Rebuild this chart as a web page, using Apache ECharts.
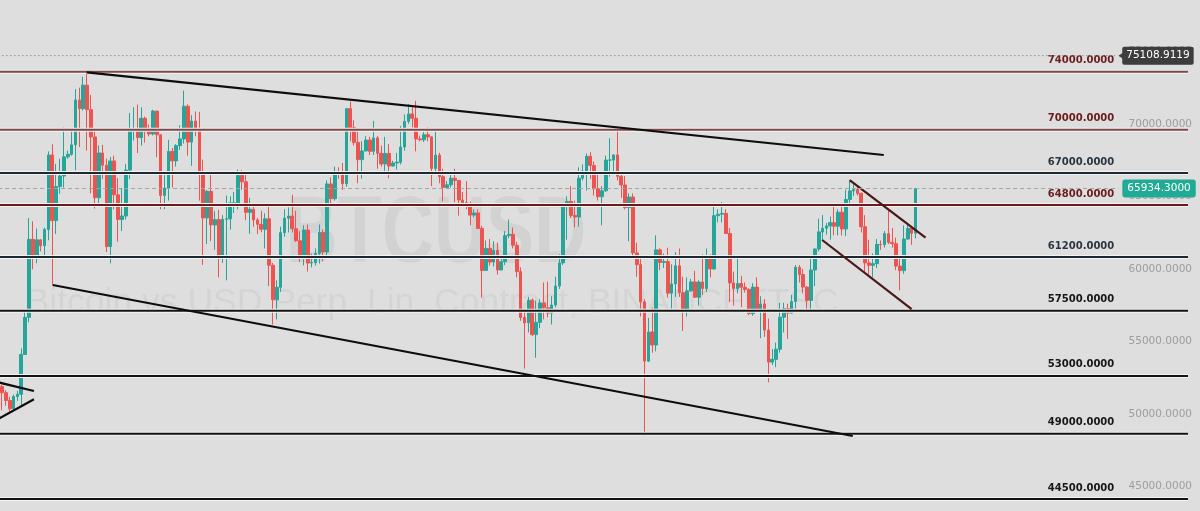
<!DOCTYPE html>
<html>
<head>
<meta charset="utf-8">
<title>BTCUSD</title>
<script src="https://cdn.jsdelivr.net/npm/echarts@6/dist/echarts.min.js"></script>
<style>
html, body { margin: 0; padding: 0; background: #dedede; }
#main { width: 1200px; height: 511px; }
</style>
</head>
<body>
<div id="main"></div>
<script>
// daily candles, 2024-02-21 .. 2024-10-14  [open, close, low, high]
const ohlc = [
  [52260, 51840, 50620, 52370], [51840, 51300, 50950, 52000], [51300, 50730, 50520, 51550], [50730, 51570, 50560, 51700],
  [51570, 51730, 51280, 51960], [51730, 54480, 50900, 54900], [54480, 57040, 54450, 57550], [57040, 62430, 56700, 63900],
  [62430, 61130, 60360, 63670],
  // Mar
  [61130, 62390, 60780, 63170], [62390, 61990, 61600, 62430], [61990, 63110, 61300, 63230], [63110, 68250, 62360, 68500],
  [68250, 63720, 59300, 69000], [63720, 66070, 62800, 67640], [66070, 66800, 65570, 67990], [66800, 68120, 66000, 70140],
  [68120, 68300, 67990, 68560], [68300, 68950, 68200, 69930], [68950, 72050, 67200, 72800], [72050, 71450, 68800, 72900],
  [71450, 73070, 71320, 73650], [73070, 71380, 68550, 73900], [71380, 69500, 65600, 72400], [69500, 65300, 64550, 70050],
  [65300, 68390, 64870, 68900], [68390, 67550, 66600, 68950], [67550, 61930, 61550, 68000], [61930, 67840, 60770, 68100],
  [67840, 65500, 64500, 68200], [65500, 63800, 62260, 66650], [63800, 64040, 63000, 65970], [64040, 67210, 63800, 67620],
  [67210, 69880, 66600, 71150], [69880, 69990, 69250, 71550], [69990, 69450, 68380, 71730], [69450, 70780, 68900, 71550],
  [70780, 69890, 69100, 70900], [69890, 69700, 69540, 70350], [69700, 71280, 69600, 71370],
  // Apr
  [71280, 69650, 68100, 71300], [69650, 65460, 64500, 69670], [65460, 65960, 64500, 66900], [65960, 68500, 65100, 69300],
  [68500, 67840, 66000, 68730], [67840, 68900, 67450, 69000], [68900, 69360, 68600, 70300], [69360, 71620, 69040, 72700],
  [71620, 69140, 68200, 71750], [69140, 70590, 67500, 71000], [70590, 70060, 69550, 71260], [70060, 67110, 65100, 71230],
  [67110, 63900, 60660, 67930], [63900, 65740, 62100, 65830], [65740, 63420, 62300, 66870], [63420, 63790, 61700, 64360],
  [63790, 61270, 59800, 64470], [61270, 63810, 60800, 64100], [63810, 63840, 59600, 65450], [63840, 64940, 63100, 65400],
  [64940, 64940, 64250, 65700], [64940, 66840, 64500, 67250], [66840, 66400, 65850, 67200], [66400, 64290, 63750, 67080],
  [64290, 64500, 62800, 65290], [64500, 63770, 63300, 64800], [63770, 63460, 62790, 63900], [63460, 63120, 62920, 64400],
  [63120, 63840, 61800, 64230], [63840, 60640, 59200, 64750],
  // May
  [60640, 58250, 56550, 60800], [58250, 59120, 56900, 59600], [59120, 62890, 58800, 63300], [62890, 63890, 62600, 64500],
  [63890, 64030, 62900, 64630], [64030, 63160, 62900, 65500], [63160, 62330, 62250, 64400], [62330, 61190, 60860, 62990],
  [61190, 63070, 60630, 63400], [63070, 60790, 60200, 63450], [60790, 60820, 60490, 61450], [60820, 61450, 60620, 61800],
  [61450, 62900, 60750, 63450], [62900, 61550, 60900, 63100], [61550, 66250, 61300, 66500], [66250, 65230, 64650, 66700],
  [65230, 67050, 65100, 67450], [67050, 66940, 66600, 67400], [66940, 66270, 65850, 67700], [66270, 71450, 66050, 71500],
  [71450, 70140, 69200, 71950], [70140, 69120, 68900, 70650], [69120, 67930, 66300, 70050], [67930, 68530, 66620, 69200],
  [68530, 69280, 68500, 69550], [69280, 68500, 68250, 69500], [68500, 69430, 68250, 70600], [69430, 68370, 67300, 69550],
  [68370, 67630, 67450, 68900], [67630, 68360, 67150, 69500], [68360, 67490, 66650, 69000],
  // Jun
  [67490, 67700, 67450, 67850], [67700, 67750, 67250, 68400], [67750, 68800, 67600, 70250], [68800, 70570, 68550, 71050],
  [70570, 71080, 70400, 71750], [71080, 70780, 70150, 71600], [70780, 69360, 68500, 71990], [69360, 69300, 69200, 69580],
  [69300, 69650, 69150, 69850], [69650, 69500, 69200, 70150], [69500, 67320, 66100, 69550], [67320, 68240, 66900, 69950],
  [68240, 66750, 66300, 68400], [66750, 66010, 65050, 67300], [66010, 66190, 65900, 66450], [66190, 66640, 66000, 66950],
  [66640, 66490, 64980, 67300], [66490, 65140, 64060, 66500], [65140, 64960, 64700, 65700], [64960, 64830, 64500, 66450],
  [64830, 64100, 63400, 65050], [64100, 64250, 63950, 64500], [64250, 63180, 63150, 64500], [63180, 60280, 58400, 63350],
  [60280, 61800, 60250, 62350], [61800, 60860, 60600, 62450], [60860, 61670, 60550, 62300], [61670, 60310, 60000, 62200],
  [60310, 60880, 60300, 61200], [60880, 62680, 60650, 63000],
  // Jul
  [62680, 62770, 62500, 63800], [62770, 62020, 61800, 63250], [62020, 60200, 59800, 62250], [60200, 57030, 56800, 60500],
  [57030, 56660, 53500, 57500], [56660, 58230, 56000, 58450], [58230, 55850, 55750, 58350], [55850, 56700, 54250, 58200],
  [56700, 58040, 56300, 58300], [58040, 57700, 56900, 59450], [57700, 57340, 57050, 59500], [57340, 57890, 56550, 58500],
  [57890, 59200, 57750, 59850], [59200, 60800, 59000, 61400], [60800, 64700, 60650, 64900], [64700, 65040, 62400, 65400],
  [65040, 64080, 63900, 66100], [64080, 63970, 63250, 65100], [63970, 66650, 63300, 67400], [66650, 67140, 66500, 67600],
  [67140, 68160, 65800, 68350], [68160, 67530, 66600, 68450], [67530, 65920, 65450, 67800], [65920, 65370, 65100, 67100],
  [65370, 65780, 63400, 66100], [65780, 67900, 65700, 68200], [67900, 67900, 66750, 69400], [67900, 68250, 67050, 68300],
  [68250, 66780, 66500, 70000], [66780, 66180, 65300, 66950], [66180, 64620, 64500, 66800],
  // Aug
  [64620, 65350, 62300, 65600], [65350, 61490, 61200, 65600], [61490, 60680, 59850, 62200], [60680, 58110, 57100, 61100],
  [58110, 54020, 48850, 58300], [54020, 56030, 53950, 57000], [56030, 55130, 54600, 57700], [55130, 61700, 54700, 62700],
  [61700, 60830, 60300, 61800], [60830, 60890, 60450, 61450], [60890, 58710, 58400, 61850], [58710, 59350, 57650, 60700],
  [59350, 60600, 58450, 61550], [60600, 58740, 58450, 61800], [58740, 57560, 56100, 59850], [57560, 58870, 57100, 59800],
  [58870, 59490, 58800, 59700], [59490, 58430, 58400, 60250], [58430, 59480, 57850, 59600], [59480, 59030, 58600, 61400],
  [59030, 61160, 58800, 61800], [61160, 60380, 59800, 61400], [60380, 64060, 60350, 64950], [64060, 64160, 63600, 64500],
  [64160, 64220, 63600, 65000], [64220, 62830, 62800, 64500], [62830, 59420, 58100, 63200], [59420, 59030, 57850, 60200],
  [59030, 59370, 58700, 61200], [59370, 59120, 57750, 59900], [59120, 58970, 58750, 59450],
  // Sep
  [58970, 57300, 57200, 59050], [57300, 59130, 57150, 59400], [59130, 57480, 57400, 59800], [57480, 57970, 55600, 58500],
  [57970, 56160, 55700, 58300], [56160, 53950, 52550, 56950], [53950, 54140, 53750, 54850], [54140, 54840, 53600, 55300],
  [54840, 57050, 54600, 58050], [57050, 57640, 56000, 58050], [57640, 57340, 55550, 57980], [57340, 58130, 57300, 58600],
  [58130, 60500, 57650, 60650], [60500, 60000, 59450, 60650], [60000, 59130, 58700, 60400], [59130, 58210, 57500, 59200],
  [58210, 60310, 57600, 61300], [60310, 61760, 59200, 61800], [61760, 62940, 61600, 63850], [62940, 63190, 62350, 64100],
  [63190, 63350, 62750, 63550], [63350, 63580, 62400, 64000], [63580, 63330, 62700, 64750], [63330, 64300, 62700, 64500],
  [64300, 63140, 62700, 64800], [63140, 65180, 62650, 65850], [65180, 65770, 64800, 66500], [65770, 65870, 65420, 66250],
  [65870, 65600, 65450, 66100], [65600, 63300, 62900, 65650],
  // Oct
  [63300, 60800, 60150, 64100], [60800, 60630, 59850, 62400], [60630, 60750, 59800, 61450], [60750, 62080, 60450, 62450],
  [62080, 62060, 61700, 62350], [62060, 62820, 61850, 63000], [62820, 62220, 62100, 64480], [62220, 62130, 61850, 63200],
  [62130, 60580, 60300, 62550], [60580, 60270, 58900, 61300], [60270, 62450, 60050, 63400], [62450, 63190, 62400, 63450],
  [63190, 62850, 62050, 63300], [62850, 65934.3, 62500, 65990]
];

// horizontal levels drawn on the chart
const levelValues = [74000, 70000, 67000, 64800, 61200, 57500, 53000, 49000, 44500];
// price scale ticks
const priceTicks = [45000, 50000, 55000, 60000, 65000, 70000, 75000];
// last price and high marker
const lastPrice = 65934.3;
const highMarker = 75108.9119;

// drawn trend lines: [candle index, price]
const channelTop = [[21.9, 73950], [227.8, 68249]];
const channelBottom = [[13.1, 59274], [219.8, 48850]];
const triangleUpper = [[-1, 52559], [8.27, 51956]];
const triangleLower = [[-1, 50022], [8.27, 51383]];
const flagUpper = [[219.0, 66523], [238.6, 62540]];
const flagLower = [[211.9, 62381], [235.0, 57617]];

const TOTAL = 310; // candles + empty right offset
const dates = [];
const d0 = Date.UTC(2024, 1, 21);
for (let i = 0; i < TOTAL; i++) {
  dates.push(i < ohlc.length ? new Date(d0 + i * 86400000).toISOString().slice(0, 10) : '');
}

const levelLine = ['#7d4848', '#7d4848', '#1e2833', '#6a1a1a', '#1e2833', '#131313', '#131313', '#131313', '#131313'];
const levelText = ['#6b1c1c', '#6b1c1c', '#2a3642', '#6b1c1c', '#2a3642', '#171717', '#171717', '#171717', '#171717'];
const LINE_END = 306.4;
const LABEL_AT = 287.35;

const chart = echarts.init(document.getElementById('main'));

const series = [
  {
    type: 'candlestick',
    xAxisIndex: 0,
    data: ohlc,
    barWidth: 3.2,
    z: 2,
    itemStyle: {
      color: '#26a69a',
      color0: '#ef5350',
      borderColor: '#26a69a',
      borderColor0: '#ef5350',
      borderWidth: 1
    }
  }
];

// level lines with a light halo
levelValues.forEach((v, i) => {
  series.push({
    type: 'line',
    xAxisIndex: 1,
    data: [[-1, v], [LINE_END, v]],
    symbol: 'none',
    silent: true,
    z: 3,
    lineStyle: { color: '#f3f3f3', width: 4 }
  });
  series.push({
    type: 'line',
    xAxisIndex: 1,
    data: [[-1, v], [LINE_END, v]],
    symbol: 'none',
    silent: true,
    z: 4,
    lineStyle: { color: levelLine[i], width: 2 },
    markPoint: {
      symbol: 'circle',
      symbolSize: 0,
      silent: true,
      data: [{ coord: [LABEL_AT, v] }],
      label: {
        show: true,
        position: 'left',
        distance: 0,
        offset: [0, -11],
        formatter: v.toFixed(4),
        color: levelText[i],
        fontFamily: 'DejaVu Sans',
        fontWeight: 'bold',
        fontSize: 10
      }
    }
  });
});

// trend lines
[
  [channelTop, '#0d0d0d'],
  [channelBottom, '#0d0d0d'],
  [triangleUpper, '#0d0d0d'],
  [triangleLower, '#0d0d0d'],
  [flagUpper, '#4a1616'],
  [flagLower, '#4a1616']
].forEach(([pts, c]) => {
  series.push({
    type: 'line',
    xAxisIndex: 1,
    data: pts,
    symbol: 'none',
    silent: true,
    z: 5,
    lineStyle: { color: c, width: 2.2 }
  });
});

// high marker (dotted) and last price (dashed)
series.push({
  type: 'line',
  xAxisIndex: 1,
  data: [[-1, highMarker], [287.6, highMarker]],
  symbol: 'none',
  silent: true,
  z: 6,
  lineStyle: { color: '#8e8e8e', width: 1, type: [1.5, 2.5] },
  endLabel: {
    show: true,
    formatter: highMarker.toFixed(4),
    distance: 7,
    color: '#ffffff',
    backgroundColor: '#3d3d3d',
    borderRadius: 2,
    padding: [4, 4, 3, 4],
    fontFamily: 'DejaVu Sans',
    fontSize: 10.5
  },
  markPoint: {
    symbol: 'triangle',
    symbolRotate: 90,
    symbolSize: [8, 6],
    silent: true,
    itemStyle: { color: '#3d3d3d' },
    label: { show: false },
    data: [{ coord: [289.2, highMarker] }]
  }
});
series.push({
  type: 'line',
  xAxisIndex: 1,
  data: [[-1, lastPrice], [288.4, lastPrice]],
  symbol: 'none',
  silent: true,
  z: 6,
  lineStyle: { color: '#a4a4a4', width: 1, type: [4, 3] },
  endLabel: {
    show: true,
    formatter: lastPrice.toFixed(4),
    distance: 4,
    color: '#ffffff',
    backgroundColor: '#22ab94',
    borderRadius: 3,
    padding: [4, 5, 3, 5],
    fontFamily: 'DejaVu Sans',
    fontSize: 10.5
  }
});

chart.setOption({
  backgroundColor: '#dedede',
  animation: false,
  grid: { left: -2.3, right: 0, top: 0, bottom: 0 },
  graphic: [
    {
      type: 'text',
      z: 0,
      silent: true,
      x: 436,
      y: 236,
      scaleX: 0.76,
      style: {
        text: 'BTCUSD',
        font: 'bold 95px "Liberation Sans"',
        fill: 'rgba(0,0,0,0.05)',
        align: 'center',
        verticalAlign: 'middle'
      }
    },
    {
      type: 'text',
      z: 0,
      silent: true,
      x: 432,
      y: 303,
      style: {
        text: 'Bitcoin vs USD Perp. Lin. Contract, BINANCEFTSC',
        font: '35.5px "Liberation Sans"',
        fill: 'rgba(0,0,0,0.045)',
        align: 'center',
        verticalAlign: 'middle'
      }
    }
  ],
  xAxis: [
    { type: 'category', data: dates, show: false, boundaryGap: true },
    { type: 'value', min: -0.5, max: TOTAL - 0.5, show: false }
  ],
  yAxis: {
    type: 'value',
    position: 'right',
    min: 43672,
    max: 78950,
    scale: true,
    axisLine: { show: false },
    axisTick: { show: false },
    splitLine: { show: false },
    axisLabel: {
      inside: true,
      customValues: priceTicks,
      margin: 8,
      verticalAlign: 'bottom',
      formatter: v => v.toFixed(4),
      color: '#9d9d9d',
      fontFamily: 'DejaVu Sans',
      fontSize: 10.5
    }
  },
  series: series
});
</script>
</body>
</html>
